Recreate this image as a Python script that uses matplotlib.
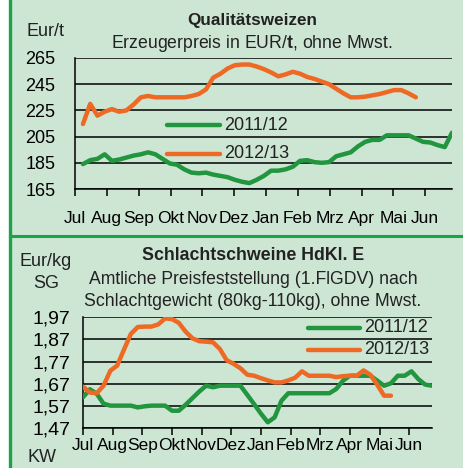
import numpy as np
import matplotlib
matplotlib.use('Agg')
from matplotlib import pyplot as plt
from matplotlib.lines import Line2D
from matplotlib.patches import Rectangle

# Daten (Wochenwerte)
monate = ['Jul', 'Aug', 'Sep', 'Okt', 'Nov', 'Dez', 'Jan', 'Feb', 'Mrz', 'Apr', 'Mai', 'Jun']

weizen_2011 = [184, 187, 188, 191.5, 186.5, 187.5, 189, 190.5, 191.5, 193, 191.5, 188, 184.5,
               183.5, 180, 177.5, 177, 177.5, 176, 175, 174, 172, 170.5, 169.5, 172, 175,
               179, 179, 180, 182, 186.5, 187, 185.5, 185, 185.5, 190, 191.5, 193, 197.5,
               201, 202.5, 202.5, 206, 206, 206, 206, 203.5, 201, 200.5, 198.5, 197, 208]
weizen_2012 = [214.6, 230, 221, 224, 226, 224, 225, 229.5, 235, 236, 235, 235, 235, 235, 235,
               236, 237.5, 241, 250, 253, 257, 259.5, 260, 260, 258.5, 256.5, 254, 251,
               252.5, 254.5, 253, 250.5, 249, 247, 245, 241.5, 238, 235, 235, 235.5, 236.5,
               237.5, 239, 240.5, 240.5, 238, 235]

schwein_2011 = [1.609, 1.645, 1.625, 1.58, 1.571, 1.571, 1.571, 1.571, 1.563, 1.568, 1.571,
                1.571, 1.571, 1.548, 1.548, 1.575, 1.605, 1.635, 1.661, 1.654, 1.661, 1.661,
                1.661, 1.661, 1.62, 1.578, 1.535, 1.496, 1.518, 1.593, 1.627, 1.627, 1.627,
                1.627, 1.627, 1.627, 1.627, 1.646, 1.684, 1.706, 1.706, 1.706, 1.706, 1.684,
                1.661, 1.672, 1.706, 1.706, 1.726, 1.691, 1.666, 1.661]
schwein_2012 = [1.657, 1.630, 1.627, 1.661, 1.729, 1.752, 1.825, 1.895, 1.926, 1.928, 1.928,
                1.938, 1.965, 1.962, 1.945, 1.905, 1.875, 1.862, 1.860, 1.857, 1.827, 1.776,
                1.760, 1.740, 1.711, 1.706, 1.695, 1.685, 1.676, 1.676, 1.685, 1.697, 1.726,
                1.706, 1.706, 1.706, 1.706, 1.70, 1.704, 1.706, 1.706, 1.73, 1.71, 1.665,
                1.616, 1.616]

weizen_ticks = [165, 185, 205, 225, 245, 265]
schwein_ticks = [1.47, 1.57, 1.67, 1.77, 1.87, 1.97]

GRUEN = '#22963f'
ORANGE = '#ee6a24'
HINTERGRUND = '#cde5d3'
RAHMEN = '#17a548'

W, H = 464, 468

plt.rcParams['font.family'] = ['Liberation Sans', 'DejaVu Sans']
plt.rcParams['mathtext.fontset'] = 'custom'
plt.rcParams['mathtext.rm'] = 'Liberation Sans'
plt.rcParams['mathtext.bf'] = 'Liberation Sans:bold'
plt.rcParams['text.color'] = '#222222'


def px(x, y):
    return x / W, 1 - y / H


def ax_rect(left, top, right, bottom):
    return [left / W, 1 - bottom / H, (right - left) / W, (bottom - top) / H]


fig = plt.figure(figsize=(W / 100, H / 100), dpi=100)
fig.patch.set_facecolor('white')
fig.add_artist(Rectangle(px(10, H), (W - 10) / W, 1, transform=fig.transFigure,
                         facecolor=HINTERGRUND, edgecolor='none', zorder=-10))
fig.add_artist(Line2D([10.5 / W] * 2, [0, 1], color=RAHMEN, lw=2.4, transform=fig.transFigure))
fig.add_artist(Line2D([10 / W, 1], [1 - 235.5 / H] * 2, color=RAHMEN, lw=2.2,
                      transform=fig.transFigure))


def style_axes(ax, ticks, labels, ylim, xlim, xt, ypad, xpad, yfs):
    ax.set_facecolor('none')
    ax.set_ylim(*ylim)
    ax.set_xlim(*xlim)
    ax.set_yticks(ticks)
    ax.set_yticklabels(labels, fontsize=yfs)
    ax.set_xticks(xt)
    ax.set_xticklabels(monate, fontsize=12.5)
    ax.tick_params(axis='y', length=0, pad=ypad)
    ax.tick_params(axis='x', length=5, width=1.1, direction='out', pad=xpad)
    for s in ['top', 'right']:
        ax.spines[s].set_visible(False)
    for s in ['left', 'bottom']:
        ax.spines[s].set_linewidth(1.1)
    for t in ticks:
        ax.axhline(t, color='black', lw=1.1, zorder=1)


def legende(x0, x1, ys, farben, texte):
    for y, c, t in zip(ys, farben, texte):
        fig.add_artist(Line2D([x0 / W, x1 / W], [1 - y / H] * 2, color=c, lw=3.2,
                              solid_capstyle='round', transform=fig.transFigure))
        fig.text(*px(x1 + 4, y), t, fontsize=13, va='center', ha='left')


# ---- Qualitätsweizen ----
ax1 = fig.add_axes(ax_rect(75, 58, 452, 189))
x1 = np.arange(len(weizen_2011))
x1b = np.arange(len(weizen_2012))
ax1.plot(x1, weizen_2011, color=GRUEN, lw=3.2, zorder=3, solid_capstyle='round')
ax1.plot(x1b, weizen_2012, color=ORANGE, lw=3.2, zorder=3, solid_capstyle='round')
style_axes(ax1, weizen_ticks, [str(t) for t in weizen_ticks], (165, 265), (-1.1, 51.0),
           -1.1 + np.arange(12) * 4.4, 14, 10.5, 13)

fig.text(*px(252, 20), 'Qualitätsweizen', fontsize=12.3, fontweight='bold', ha='center', va='center')
fig.text(*px(252, 43), r'Erzeugerpreis in EUR/$\mathbf{t}$, ohne Mwst.', fontsize=12.7,
         ha='center', va='center')
fig.text(*px(46, 32), 'Eur/t', fontsize=13, ha='center', va='center')
legende(167, 220, [125, 154], [GRUEN, ORANGE], ['2011/12', '2012/13'])

# ---- Schlachtschweine ----
ax2 = fig.add_axes(ax_rect(83, 317.3, 432, 428))
x2 = np.arange(len(schwein_2011))
x2b = np.arange(len(schwein_2012))
ax2.plot(x2, schwein_2011, color=GRUEN, lw=3.2, zorder=3, solid_capstyle='round')
ax2.plot(x2b, schwein_2012, color=ORANGE, lw=3.2, zorder=3, solid_capstyle='round')
style_axes(ax2, schwein_ticks, [f'{t:.2f}'.replace('.', ',') for t in schwein_ticks],
           (1.47, 1.97), (0, 51.0), np.arange(12) * 52 / 12, 9, 2, 14)

fig.text(*px(253, 255), 'Schlachtschweine HdKl. E', fontsize=12.8, fontweight='bold',
         ha='center', va='center')
fig.text(*px(253, 279), 'Amtliche Preisfeststellung (1.FlGDV) nach', fontsize=12.7,
         ha='center', va='center')
fig.text(*px(253, 302), 'Schlachtgewicht (80kg-110kg), ohne Mwst.', fontsize=12.8,
         ha='center', va='center')
fig.text(*px(46, 261), 'Eur/kg', fontsize=13, ha='center', va='center')
fig.text(*px(46, 284), 'SG', fontsize=13, ha='center', va='center')
fig.text(*px(42, 457), 'KW', fontsize=13, ha='center', va='center')
legende(308, 360, [328, 350], [GRUEN, ORANGE], ['2011/12', '2012/13'])

fig.savefig('out.png', dpi=100, facecolor=fig.get_facecolor())
